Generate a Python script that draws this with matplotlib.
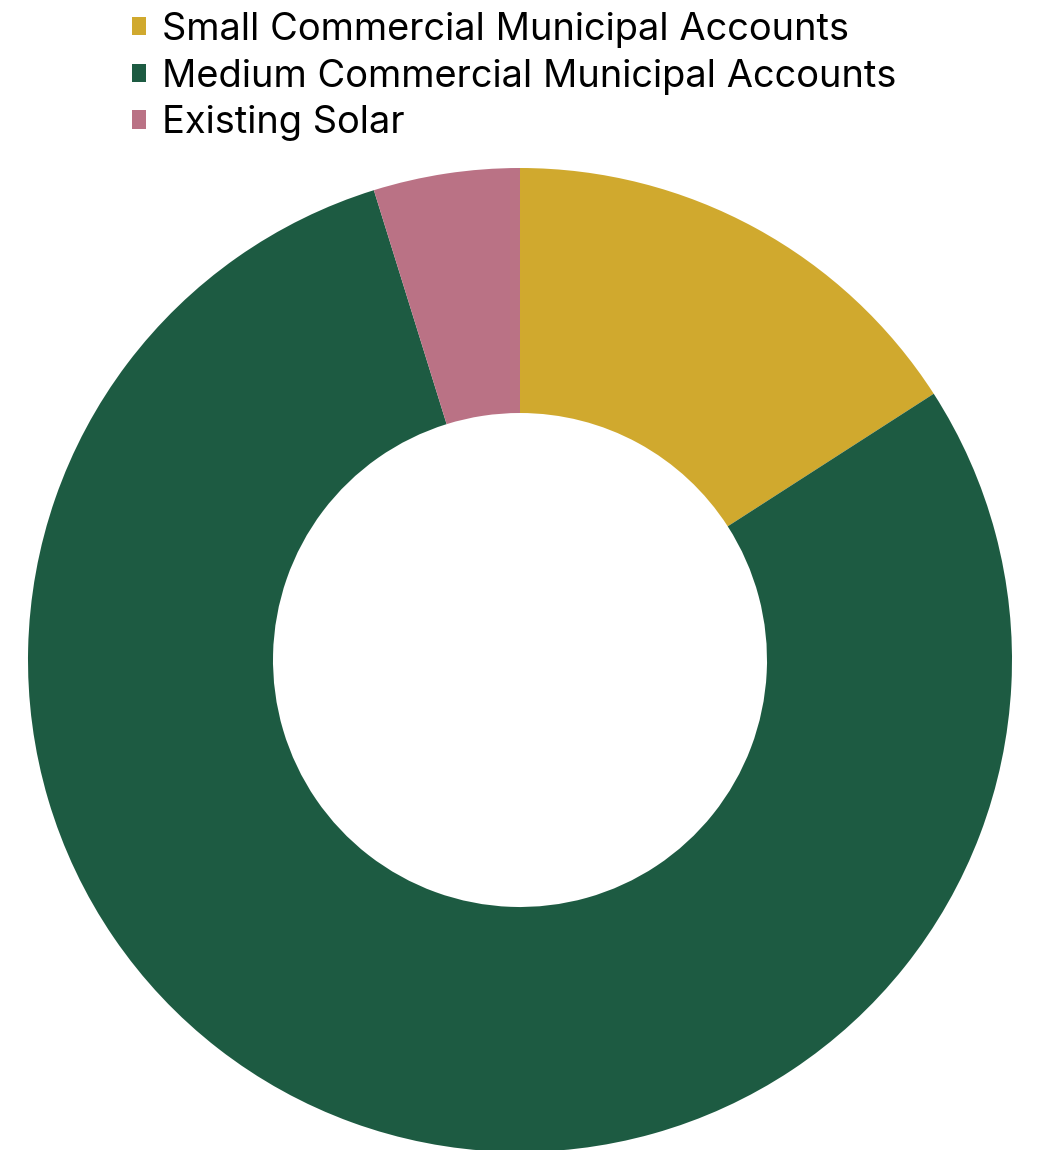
import matplotlib.pyplot as plt

# Donut chart: share of municipal load
labels = ["Small Commercial Municipal Accounts",
          "Medium Commercial Municipal Accounts",
          "Existing Solar"]
shares = [15.9, 79.3, 4.8]
colors = ["#D0A92E", "#1D5B42", "#BA7285"]

W, H = 1042, 1150
fig = plt.figure(figsize=(W / 100, H / 100), dpi=100)
ax = fig.add_axes([0, 0, 1, 1])
ax.set_xlim(0, W)
ax.set_ylim(0, H)
ax.set_aspect("equal")
ax.axis("off")

wedges, _ = ax.pie(shares, colors=colors, startangle=90, counterclock=False,
                   center=(520, H - 660), radius=492,
                   wedgeprops=dict(width=492 - 247, linewidth=0))

ax.set_xlim(0, W)
ax.set_ylim(0, H)

leg = ax.legend(wedges, labels, loc="upper left",
                bbox_to_anchor=(130 / W, 1 - 10 / H), frameon=False,
                prop={"family": ["Inter", "DejaVu Sans"], "size": 27.4},
                handlelength=0.36, handleheight=0.36, handletextpad=0.42,
                labelspacing=0.28, borderpad=0.05, borderaxespad=0)

fig.savefig("out.png", dpi=100)
